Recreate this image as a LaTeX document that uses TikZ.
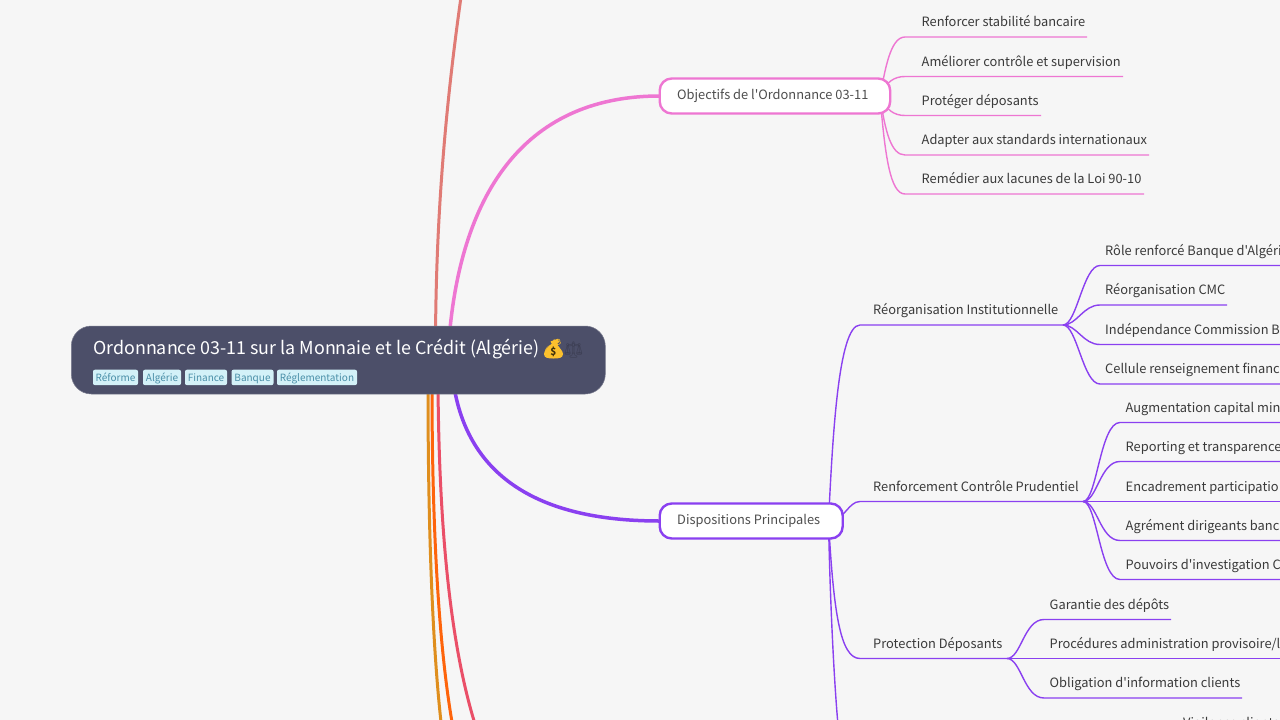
\documentclass[tikz,border=0pt]{standalone}
\usepackage{fontspec}
\newfontfamily\uif{Noto Sans CJK SC}
\newfontfamily\emojifont{Noto Emoji}
\usetikzlibrary{backgrounds}
\definecolor{bgc}{HTML}{F6F6F6}
\definecolor{rootc}{HTML}{4C4F69}
\definecolor{pinkc}{HTML}{EE76D2}
\definecolor{purc}{HTML}{8A40F0}
\definecolor{salc}{HTML}{E07B75}
\definecolor{goldc}{HTML}{DF8E1D}
\definecolor{orc}{HTML}{FE640B}
\definecolor{redc}{HTML}{EA4F68}
\definecolor{tagf}{HTML}{D3F1F8}
\definecolor{tagt}{HTML}{4A8FA8}
\definecolor{txtc}{HTML}{3A3A3A}
\definecolor{bagc}{HTML}{FBC02D}
\tikzset{
  rootbox/.style={draw=rootc!75!white,line width=.5pt,fill=rootc,rounded corners=20pt,inner sep=0pt,outer sep=0pt,anchor=north west},
  branchbox/.style={fill=white,rounded corners=12pt,line width=2.4pt,inner sep=0pt,outer sep=0pt,anchor=north west},
  lbl/.style={anchor=base west,inner sep=0pt,text=txtc,font=\uif\fontsize{12.85}{13}\selectfont},
  branchlbl/.style={anchor=base west,inner sep=0pt,text=txtc!90!white,font=\uif\fontsize{12.85}{13}\selectfont},
  tagbox/.style={fill=tagf,rounded corners=2pt,inner sep=0pt,outer sep=0pt,text=tagt,text height=9pt,text depth=1pt,font=\uif\fontsize{10}{10}\selectfont,anchor=north west},
  trunk/.style={line width=3pt,line cap=round},
  wire/.style={line width=1.4pt}
}
% name, hub, first control, second control dx, start x of rule, y of rule, end x, text x, text
\newcommand\leaf[9]{%
  \node[lbl] (#1) at (#8,#6-10.5) {#9};
  \coordinate (#1u) at (#5,#6);
  \coordinate (#1e) at (#7,#6);
  \begin{scope}[on background layer]
    \draw[wire,draw=\lc] (#2) .. controls +#3 and +(#4,0) .. (#1u) -- (#1e);
  \end{scope}
}
\begin{document}
\begin{tikzpicture}[x=1pt,y=-1pt]
\useasboundingbox (0,0) rectangle (1280,720);
\clip (0,0) rectangle (1280,720);
\begin{scope}[on background layer]
  \fill[bgc] (0,0) rectangle (1280,720);
\end{scope}

% main nodes
\node[rootbox,minimum width=534pt,minimum height=68pt] (root) at (71.3,326) {};
\node[anchor=base west,inner sep=0pt,text=white,font=\uif\fontsize{17.88}{18}\selectfont] (title) at (93,354) {Ordonnance 03-11 sur la Monnaie et le Crédit (Algérie)};
% money bag emoji
\fill[bagc] (551.5,344) .. controls (548,347) and (544,351) .. (544,354) .. controls (544,358) and (548,358.5) .. (553.5,358.5) .. controls (559,358.5) and (563,358) .. (563,354) .. controls (563,351) and (559,347) .. (556,344) -- cycle;
\fill[bagc] (550.5,341.5) -- (558,338.8) -- (559,342) -- (556.5,344.5) -- (552,344.5) -- cycle;
\node[anchor=center,inner sep=0pt,text=bagc,font=\emojifont\fontsize{19}{19}\selectfont] (bag) at (553.5,349) {💰};
\node[anchor=center,inner sep=0pt,text=black!75!bagc,font=\uif\bfseries\fontsize{10}{10}\selectfont] (dollar) at (553.5,351.5) {\$};
\node[anchor=center,inner sep=0pt,text=rootc!80!black,font=\emojifont\fontsize{16}{16}\selectfont] (scales) at (573.5,350.5) {⚖};

\node[tagbox,minimum width=45pt,minimum height=15.5pt] (t1) at (93,369.7) {Réforme};
\node[tagbox,minimum width=38pt,minimum height=15.5pt] (t2) at (143,369.7) {Algérie};
\node[tagbox,minimum width=42pt,minimum height=15.5pt] (t3) at (185,369.7) {Finance};
\node[tagbox,minimum width=42pt,minimum height=15.5pt] (t4) at (231.5,369.7) {Banque};
\node[tagbox,minimum width=80pt,minimum height=15.5pt] (t5) at (277,369.7) {Réglementation};

\node[branchbox,draw=pinkc,minimum width=230.5pt,minimum height=35pt] (obj) at (659.7,78.5) {};
\node[branchlbl] (objt) at (677,99) {Objectifs de l'Ordonnance 03-11};
\node[branchbox,draw=purc,minimum width=183pt,minimum height=35pt] (disp) at (659.7,503.5) {};
\node[branchlbl] (dispt) at (677,524) {Dispositions Principales};

% hubs and free ends
\coordinate (oh) at (880,96);
\coordinate (dh) at (828.5,521);
\coordinate (h1) at (1063,325);
\coordinate (h2) at (1083,501.5);
\coordinate (h3) at (1007,658.5);
\coordinate (rs) at (435.5,340);
\coordinate (rp) at (449,340);
\coordinate (rd) at (453,380);
\coordinate (rg) at (428,385);
\coordinate (ro) at (432,385);
\coordinate (rr) at (438,385);
\coordinate (es) at (461,-3);
\coordinate (eg) at (441,722);
\coordinate (eo) at (452,722);
\coordinate (er) at (475,724);
\coordinate (ed) at (838,725);

\begin{scope}[on background layer]
  \draw[trunk,draw=salc] (rs) .. controls (436,220) and (445,110) .. (es);
  \draw[trunk,draw=goldc] (rg) .. controls (428,520) and (432,640) .. (eg);
  \draw[trunk,draw=orc] (ro) .. controls (432,520) and (438,640) .. (eo);
  \draw[trunk,draw=redc] (rr) .. controls (439,520) and (449,640) .. (er);
  \draw[trunk,draw=pinkc,line width=3.5pt] (rp) .. controls (460,200) and (520,96) .. (obj.west);
  \draw[trunk,draw=purc,line width=3.5pt] (rd) .. controls (465,470) and (530,521) .. (disp.west);
  \draw[wire,draw=purc] (dh) .. controls (830,600) and (834,680) .. (ed);
\end{scope}

\def\lc{pinkc}
\leaf{a1}{oh}{(5,-25)}{-15}{905}{37}{1087}{921.5}{Renforcer stabilité bancaire}
\leaf{a2}{oh}{(6,-14)}{-11}{905}{76.5}{1123}{921.5}{Améliorer contrôle et supervision}
\leaf{a3}{oh}{(6,14)}{-11}{905}{115.5}{1041}{921.5}{Protéger déposants}
\leaf{a4}{oh}{(5,35)}{-14}{905}{155}{1149}{921.5}{Adapter aux standards internationaux}
\leaf{a5}{oh}{(5,59)}{-15}{905}{194}{1144}{921.5}{Remédier aux lacunes de la Loi 90-10}

\def\lc{purc}
\leaf{b1}{dh}{(4,-80)}{-22}{860}{325}{1063}{873}{Réorganisation Institutionnelle}
\leaf{b2}{dh}{(16,0)}{-12}{860}{501.5}{1083}{873}{Renforcement Contrôle Prudentiel}
\leaf{b3}{dh}{(5,90)}{-20}{860}{658.5}{1007}{873}{Protection Déposants}

\leaf{c1}{h1}{(14,0)}{-17}{1100}{265.5}{1280}{1105}{Rôle renforcé Banque d'Algéri}
\leaf{c2}{h1}{(14,0)}{-17}{1100}{305}{1227}{1105}{Réorganisation CMC}
\leaf{c3}{h1}{(14,0)}{-17}{1100}{344.5}{1280}{1105}{Indépendance Commission B}
\leaf{c4}{h1}{(14,0)}{-17}{1100}{384}{1280}{1105}{Cellule renseignement financ}

\leaf{d1}{h2}{(14,0)}{-20}{1120}{422.5}{1280}{1125.5}{Augmentation capital mini}
\leaf{d2}{h2}{(14,0)}{-20}{1120}{461.5}{1280}{1125.5}{Reporting et transparence}
\leaf{d3}{h2}{(14,0)}{-20}{1120}{501.5}{1280}{1125.5}{Encadrement participatio}
\leaf{d4}{h2}{(14,0)}{-20}{1120}{540.5}{1280}{1125.5}{Agrément dirigeants banc}
\leaf{d5}{h2}{(14,0)}{-20}{1120}{579.5}{1280}{1125.5}{Pouvoirs d'investigation C}

\leaf{e1}{h3}{(14,0)}{-20}{1044}{619.5}{1171}{1049.5}{Garantie des dépôts}
\leaf{e2}{h3}{(14,0)}{-20}{1044}{658.5}{1280}{1049.5}{Procédures administration provisoire/l}
\leaf{e3}{h3}{(14,0)}{-20}{1044}{698}{1242}{1049.5}{Obligation d'information clients}

\node[lbl] (f1) at (1183,727) {Vigilance clients};
\end{tikzpicture}
\end{document}
